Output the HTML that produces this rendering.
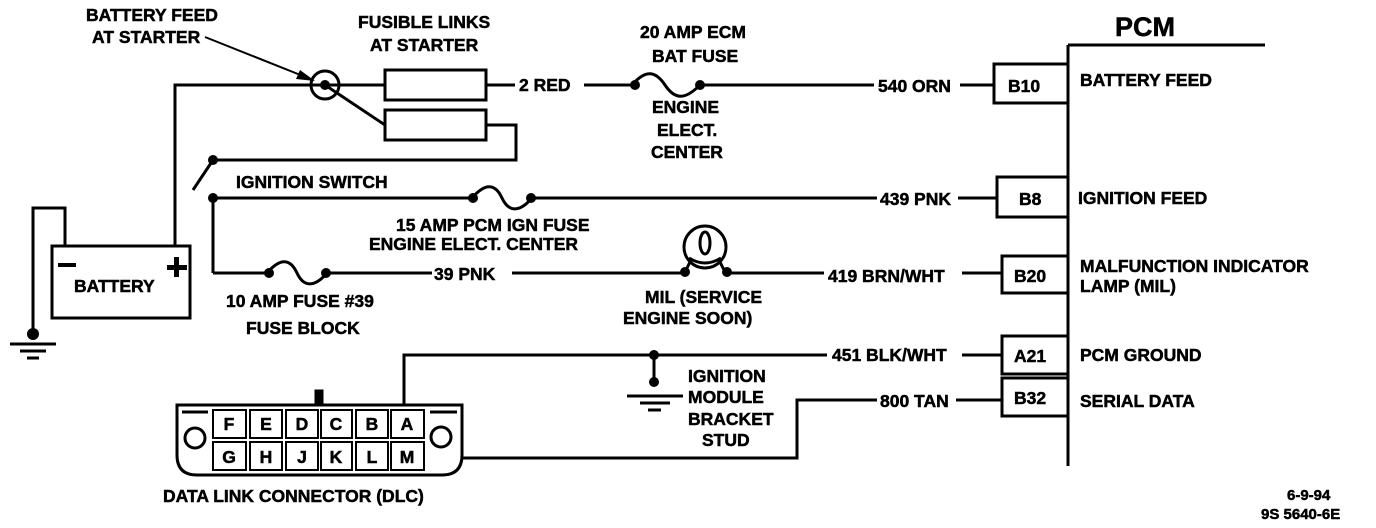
<!DOCTYPE html>
<html><head><style>
html,body{margin:0;padding:0;background:#fff;}
svg{display:block;}
text{font-family:"Liberation Sans",sans-serif;font-weight:bold;font-size:17.5px;fill:#000;stroke:#000;stroke-width:0.5;}
</style></head><body>
<svg width="1376" height="528" viewBox="0 0 1376 528" xmlns="http://www.w3.org/2000/svg">
<g stroke="#000" stroke-width="3" fill="none">
<line x1="1068" y1="45" x2="1068" y2="466"/>
<line x1="1068" y1="45" x2="1265" y2="45"/>
<rect x="994" y="64" width="74" height="39"/>
<rect x="997" y="177" width="71" height="40"/>
<rect x="1002" y="256" width="66" height="37"/>
<rect x="1002" y="336" width="66" height="38"/>
<rect x="1002" y="378" width="66" height="38"/>
<line x1="486" y1="85" x2="515" y2="85"/>
<line x1="584" y1="85" x2="632" y2="85"/>
<path d="M632 85 C645 70,655 70,665 85 S685 100,700 85"/>
<line x1="700" y1="85" x2="874" y2="85"/>
<line x1="960" y1="85" x2="994" y2="85"/>
<line x1="213" y1="198" x2="472" y2="198"/>
<path d="M472 198 C485 183,495 183,502 198 S520 212,532 198"/>
<line x1="532" y1="198" x2="877" y2="198"/>
<line x1="958" y1="198" x2="997" y2="198"/>
<line x1="213" y1="198" x2="213" y2="273"/>
<line x1="213" y1="273" x2="267" y2="273"/>
<path d="M267 273 C280 258,290 258,297 273 S315 287,327 273"/>
<line x1="327" y1="273" x2="432" y2="273"/>
<line x1="512" y1="273" x2="685" y2="273"/>
<line x1="727" y1="273" x2="824" y2="273"/>
<line x1="962" y1="273" x2="1002" y2="273"/>
<circle cx="705" cy="247" r="21"/>
<ellipse cx="705" cy="243" rx="5" ry="11"/>
<path d="M685 272 L692 258 M725 272 L718 258 M689 258 Q705 268 721 258"/>
<path d="M404 405 V355 H827"/>
<line x1="962" y1="355" x2="1002" y2="355"/>
<line x1="654" y1="355" x2="654" y2="382"/>
<line x1="627" y1="396" x2="683" y2="396"/>
<line x1="640" y1="403" x2="670" y2="403"/>
<line x1="648" y1="410" x2="661" y2="410"/>
<path d="M462 458 H797 V400 H877"/>
<line x1="956" y1="400" x2="1002" y2="400"/>
<rect x="52" y="246" width="138" height="72"/>
<path d="M65 246 V208 H33 V333"/>
<line x1="10" y1="344" x2="56" y2="344"/>
<line x1="20" y1="351" x2="46" y2="351"/>
<line x1="27" y1="358" x2="39" y2="358"/>
<path d="M175 246 V85 H385"/>
<circle cx="325" cy="85" r="14"/>
<line x1="325" y1="85" x2="385" y2="125"/>
<rect x="385" y="70" width="101" height="30"/>
<rect x="385" y="110" width="101" height="30"/>
<path d="M486 125 H516 V160 H213"/>
<line x1="213" y1="160" x2="193" y2="190"/>
<line x1="205" y1="37" x2="308" y2="78" stroke-width="2"/>
<path d="M177 405 H462 V455 Q462 475 442 475 H197 Q177 475 177 455 Z"/>
<rect x="316" y="391" width="6" height="14" fill="#000"/>
<line x1="182" y1="412" x2="208" y2="412"/>
<line x1="430" y1="412" x2="457" y2="412"/>
<circle cx="195" cy="438" r="10"/>
<circle cx="441" cy="437" r="10"/>
</g>
<g fill="#000">
<polygon points="315,81 300,70 296,79"/>
<circle cx="325" cy="85" r="5"/>
<circle cx="213" cy="160" r="5"/>
<circle cx="213" cy="198" r="5"/>
<circle cx="635" cy="85" r="5"/><circle cx="700" cy="85" r="5"/>
<circle cx="473" cy="198" r="5"/><circle cx="531" cy="198" r="5"/>
<circle cx="269" cy="273" r="5"/><circle cx="326" cy="273" r="5"/>
<circle cx="685" cy="272" r="5"/><circle cx="727" cy="272" r="5"/>
<circle cx="654" cy="355" r="5"/><circle cx="654" cy="382" r="5"/>
<circle cx="33" cy="334" r="6"/>
<rect x="58" y="263" width="18" height="4"/>
<rect x="167" y="265" width="20" height="5"/><rect x="174" y="257" width="5" height="20"/>
</g>
<g stroke="#000" stroke-width="2" fill="none">
<rect x="213" y="410" width="33" height="28"/><rect x="250" y="410" width="32" height="28"/>
<rect x="286" y="410" width="32" height="28"/><rect x="321" y="410" width="31" height="28"/>
<rect x="356" y="410" width="32" height="28"/><rect x="391" y="410" width="33" height="28"/>
<rect x="213" y="442" width="33" height="28"/><rect x="250" y="442" width="32" height="28"/>
<rect x="286" y="442" width="32" height="28"/><rect x="321" y="442" width="31" height="28"/>
<rect x="356" y="442" width="32" height="28"/><rect x="391" y="442" width="33" height="28"/>
</g>
<g text-anchor="middle">
<text x="229" y="430">F</text><text x="266" y="430">E</text><text x="302" y="430">D</text><text x="336" y="430">C</text><text x="372" y="430">B</text><text x="407" y="430">A</text>
<text x="229" y="463">G</text><text x="266" y="463">H</text><text x="302" y="463">J</text><text x="336" y="463">K</text><text x="372" y="463">L</text><text x="407" y="463">M</text>
</g>
<g>
<text x="86" y="21">BATTERY FEED</text>
<text x="92" y="43">AT STARTER</text>
<text x="358" y="28">FUSIBLE LINKS</text>
<text x="370" y="51">AT STARTER</text>
<text x="519" y="91">2 RED</text>
<text x="640" y="38">20 AMP ECM</text>
<text x="652" y="62">BAT FUSE</text>
<text x="652" y="113">ENGINE</text>
<text x="657" y="136">ELECT.</text>
<text x="651" y="158">CENTER</text>
<text x="1115" y="36" style="font-size:27px">PCM</text>
<text x="878" y="92">540 ORN</text>
<text x="1008" y="92">B10</text>
<text x="1080" y="86">BATTERY FEED</text>
<text x="236" y="188">IGNITION SWITCH</text>
<text x="880" y="205">439 PNK</text>
<text x="1019" y="205">B8</text>
<text x="1078" y="204">IGNITION FEED</text>
<text x="396" y="231">15 AMP PCM IGN FUSE</text>
<text x="369" y="250">ENGINE ELECT. CENTER</text>
<text x="434" y="280">39 PNK</text>
<text x="828" y="282">419 BRN/WHT</text>
<text x="1014" y="282">B20</text>
<text x="1080" y="272">MALFUNCTION INDICATOR</text>
<text x="1080" y="292">LAMP  (MIL)</text>
<text x="74" y="292">BATTERY</text>
<text x="226" y="307">10 AMP FUSE  #39</text>
<text x="246" y="334">FUSE BLOCK</text>
<text x="645" y="303">MIL (SERVICE</text>
<text x="623" y="324">ENGINE SOON)</text>
<text x="832" y="361">451 BLK/WHT</text>
<text x="1014" y="362">A21</text>
<text x="1080" y="361">PCM GROUND</text>
<text x="688" y="382">IGNITION</text>
<text x="688" y="403">MODULE</text>
<text x="688" y="425">BRACKET</text>
<text x="702" y="446">STUD</text>
<text x="880" y="407">800 TAN</text>
<text x="1014" y="404">B32</text>
<text x="1080" y="407">SERIAL DATA</text>
<text x="163" y="502">DATA LINK CONNECTOR (DLC)</text>
<text x="1287" y="500" style="font-size:15px">6-9-94</text>
<text x="1261" y="519" style="font-size:15px">9S 5640-6E</text>
</g>
</svg>
</body></html>
